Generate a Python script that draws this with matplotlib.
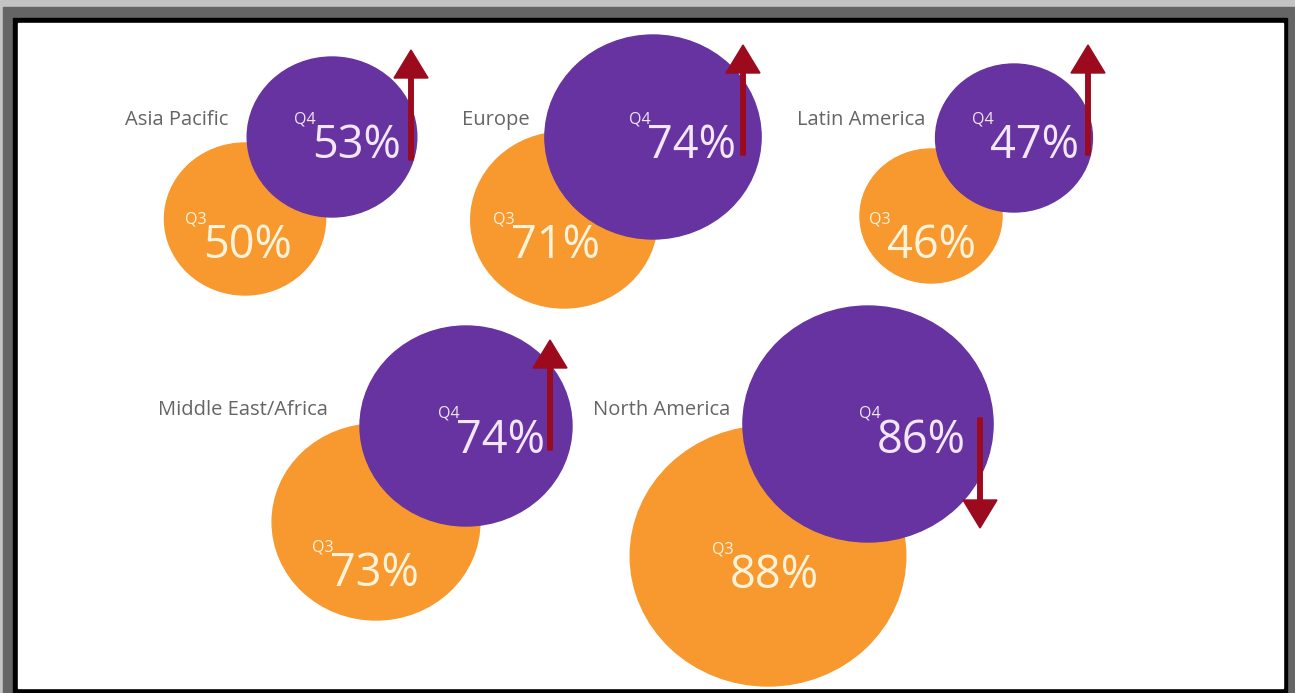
import matplotlib.pyplot as plt
from matplotlib.patches import Ellipse, Rectangle, FancyArrow

# --- data ---
regions = ["Asia Pacific", "Europe", "Latin America", "Middle East/Africa", "North America"]
q3_values = [50, 71, 46, 73, 88]
q4_values = [53, 74, 47, 74, 86]

# --- layout (pixel space, y down) ---
W, H = 1295, 693
stretch = 1.06  # the picture is a bit wider than tall

q3_center = [(245, 219), (564, 220), (931, 216), (376, 522), (768, 556)]
q3_radius = [76, 88, 67, 98, 130]
q4_center = [(332, 137), (653, 137), (1014, 138), (466, 426), (868, 424)]
q4_radius = [80, 102, 74, 100, 118]

label_pos = [(228, 120), (530, 120), (925, 120), (328, 410), (730, 410)]
q4_text = [(312, 158), (647, 158), (990, 158), (456, 453), (877, 453)]
q3_text = [(203, 258), (511, 258), (887, 258), (330, 586), (730, 588)]
arrow_x = [411, 743, 1088, 550, 980]
arrow_base = [160, 155, 155, 450, 418]

orange = "#f7992f"
purple = "#6633a0"
dark_red = "#9c0a1e"

fig = plt.figure(figsize=(W / 100, H / 100), dpi=100)
ax = fig.add_axes([0, 0, 1, 1])
ax.set_xlim(0, W)
ax.set_ylim(H, 0)
ax.axis("off")

# frame
ax.add_patch(Rectangle((0, 0), W, H, color="#c3c3c3", zorder=0))
ax.add_patch(Rectangle((3, 7), W - 3, H - 7, color="#656565", zorder=0))
ax.add_patch(Rectangle((13, 18), 1287 - 13, H - 18, color="black", zorder=0))
inner = Rectangle((18, 23), 1283 - 18, 688 - 23, color="white", zorder=0)
ax.add_patch(inner)

for i, name in enumerate(regions):
    (ox, oy), r3 = q3_center[i], q3_radius[i]
    (px, py), r4 = q4_center[i], q4_radius[i]

    e3 = Ellipse((ox, oy), 2 * r3 * stretch, 2 * r3, color=orange, zorder=2)
    ax.add_patch(e3)
    e3.set_clip_path(inner)
    e4 = Ellipse((px, py), 2 * r4 * stretch, 2 * r4, color=purple, zorder=3)
    ax.add_patch(e4)

    lx, ly = label_pos[i]
    ax.text(lx, ly, name, ha="right", va="center", fontsize=14.5,
            color="#656565", family="Open Sans", zorder=5)

    # Q4 value
    tx, ty = q4_text[i]
    ax.text(tx, ty, f"{q4_values[i]}%", ha="left", va="baseline", fontsize=32.5,
            color="#f3e6f6", family="Open Sans", zorder=5)
    ax.text(tx + 4, ty - 35, "Q4", ha="right", va="baseline", fontsize=11.5,
            color="#f3e6f6", family="Open Sans", zorder=5)

    # Q3 value
    tx, ty = q3_text[i]
    ax.text(tx, ty, f"{q3_values[i]}%", ha="left", va="baseline", fontsize=32.5,
            color="#fff3da", family="Open Sans", zorder=5)
    ax.text(tx + 4, ty - 35, "Q3", ha="right", va="baseline", fontsize=11.5,
            color="#fff3da", family="Open Sans", zorder=5)

    # arrow: up if Q4 grew, down if it fell
    dy = -110 if q4_values[i] > q3_values[i] else 110
    ax.add_patch(FancyArrow(arrow_x[i], arrow_base[i], 0, dy, width=4.5,
                            head_width=34, head_length=28,
                            length_includes_head=True, color=dark_red,
                            zorder=6))

fig.savefig("out.png", dpi=100)
